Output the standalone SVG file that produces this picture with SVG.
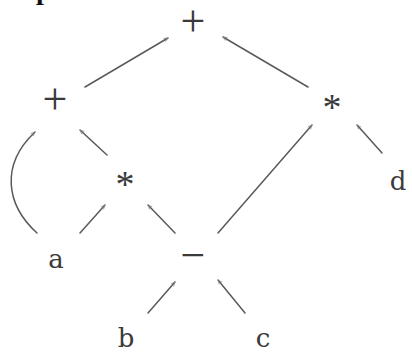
<svg xmlns="http://www.w3.org/2000/svg" width="412" height="352" viewBox="0 0 412 352">
<defs>
<style>
.op{font-family:"Liberation Serif",serif;font-size:44px;fill:#3a3a3a;text-anchor:middle}
.st{font-family:"Liberation Serif",serif;font-size:38px;fill:#3a3a3a;text-anchor:middle}
.lf{font-family:"DejaVu Serif",serif;font-size:26px;fill:#3a3a3a;text-anchor:middle}
.e{fill:none;stroke:#5a5a5a;stroke-width:1.5;stroke-linecap:round}
</style>
<marker id="ah" viewBox="0 0 10 10" refX="9" refY="5" markerWidth="4" markerHeight="4" orient="auto">
<path d="M2,2 L9,5 L2,8" fill="none" stroke="#888" stroke-width="1.2"/>
</marker>
</defs>
<rect width="412" height="352" fill="#fff"/>
<text x="36" y="-1" font-family="Liberation Serif,serif" font-weight="bold" font-size="28" fill="#111">p</text>
<g id="connectors">
<line class="e" x1="85" y1="87" x2="168" y2="38" marker-end="url(#ah)"/>
<line class="e" x1="308" y1="87" x2="223" y2="37" marker-end="url(#ah)"/>
<path class="e" d="M37,233 C6,205 0,165 35,132" marker-end="url(#ah)"/>
<line class="e" x1="107" y1="155" x2="80" y2="130" marker-end="url(#ah)"/>
<line class="e" x1="80" y1="233" x2="105" y2="205" marker-end="url(#ah)"/>
<line class="e" x1="175" y1="233" x2="148" y2="205" marker-end="url(#ah)"/>
<line class="e" x1="218" y1="233" x2="312" y2="125" marker-end="url(#ah)"/>
<line class="e" x1="382" y1="153" x2="357" y2="125" marker-end="url(#ah)"/>
<line class="e" x1="148" y1="313" x2="175" y2="282" marker-end="url(#ah)"/>
<line class="e" x1="245" y1="313" x2="218" y2="280" marker-end="url(#ah)"/>
</g>
<g id="n-root"><text class="op" x="193" y="36">+</text></g>
<g id="n-plus"><text class="op" x="55" y="114">+</text></g>
<g id="n-mulR"><text class="st" x="332" y="120">*</text></g>
<g id="n-mulM"><text class="st" x="125" y="197">*</text></g>
<g id="n-d"><text class="lf" x="398" y="190">d</text></g>
<g id="n-a"><text class="lf" x="56" y="268">a</text></g>
<g id="n-minus"><text class="op" x="193" y="270">−</text></g>
<g id="n-b"><text class="lf" x="126" y="347">b</text></g>
<g id="n-c"><text class="lf" x="263" y="347">c</text></g>
</svg>
